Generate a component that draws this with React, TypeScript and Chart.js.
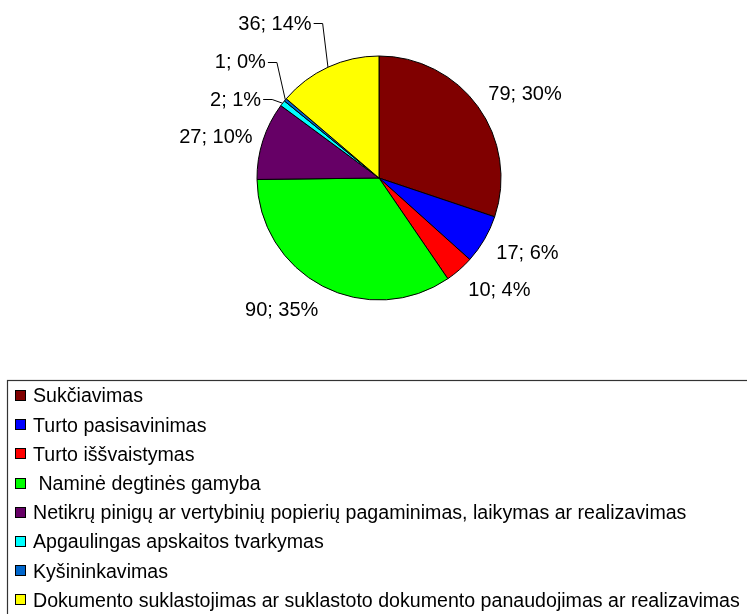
import { useEffect, useRef } from "react";
import { Chart, registerables } from "chart.js";

Chart.register(...registerables);

const categories = [
  "Sukčiavimas",
  "Turto pasisavinimas",
  "Turto iššvaistymas",
  " Naminė degtinės gamyba",
  "Netikrų pinigų ar vertybinių popierių pagaminimas, laikymas ar realizavimas",
  "Apgaulingas apskaitos tvarkymas",
  "Kyšininkavimas",
  "Dokumento suklastojimas ar suklastoto dokumento panaudojimas ar realizavimas",
];
const counts = [79, 17, 10, 90, 27, 2, 1, 36];
const percents = [30, 6, 4, 35, 10, 1, 0, 14];
const colors = [
  "#800000",
  "#0000FF",
  "#FF0000",
  "#00FF00",
  "#660066",
  "#00FFFF",
  "#0066CC",
  "#FFFF00",
];

// layout (not data): label centre offsets from each arc's outer mid point
const labelOffsets: [number, number][] = [
  [47, -13],
  [43, 13],
  [40, 20],
  [-41, 23],
  [-47, -4],
  [-47, -4],
  [-45, -38],
  [-53, -44],
];
const hasLeader = [false, false, false, false, false, true, true, true];

const FONT = '"Liberation Sans", Arial, sans-serif';

const labelPlugin = {
  id: "pieLabels",
  afterDatasetsDraw(chart: any) {
    const ctx = chart.ctx as CanvasRenderingContext2D;
    const meta = chart.getDatasetMeta(0);
    ctx.save();
    ctx.font = `20px ${FONT}`;
    ctx.fillStyle = "#000";
    ctx.textAlign = "center";
    ctx.textBaseline = "middle";
    ctx.strokeStyle = "#000";
    ctx.lineWidth = 1;
    meta.data.forEach((arc: any, i: number) => {
      const p = arc.getProps(["x", "y", "startAngle", "endAngle", "outerRadius"], true);
      const mid = (p.startAngle + p.endAngle) / 2;
      const ex = p.x + Math.cos(mid) * p.outerRadius;
      const ey = p.y + Math.sin(mid) * p.outerRadius;
      const lx = ex + labelOffsets[i][0];
      const ly = ey + labelOffsets[i][1];
      const text = `${counts[i]}; ${percents[i]}%`;
      ctx.fillText(text, lx, ly + 1);
      if (hasLeader[i]) {
        const w = ctx.measureText(text).width;
        const sx = lx + w / 2 + 2;
        const kx = sx + 9;
        ctx.beginPath();
        ctx.moveTo(sx, Math.round(ly) + 0.5);
        ctx.lineTo(kx, Math.round(ly) + 0.5);
        ctx.lineTo(ex, ey);
        ctx.stroke();
      }
    });
    ctx.restore();
  },
  afterDraw(chart: any) {
    const ctx = chart.ctx as CanvasRenderingContext2D;
    const labels: string[] = chart.data.labels;
    const bg: string[] = chart.data.datasets[0].backgroundColor;
    ctx.save();
    // legend frame
    ctx.strokeStyle = "#333";
    ctx.lineWidth = 1.2;
    ctx.strokeRect(7.5, 380.5, 800, 300);
    ctx.font = `19.6px ${FONT}`;
    ctx.textAlign = "left";
    ctx.textBaseline = "middle";
    labels.forEach((lab, i) => {
      const cy = 395.5 + 29.2 * i;
      const top = Math.round(cy - 5.5);
      ctx.fillStyle = bg[i];
      ctx.fillRect(15, top, 11, 11);
      ctx.strokeStyle = "#000";
      ctx.lineWidth = 1;
      ctx.strokeRect(15.5, top + 0.5, 10, 10);
      ctx.fillStyle = "#000";
      ctx.fillText(lab, 33, cy + 1.5);
    });
    ctx.restore();
  },
};

export default function App() {
  const ref = useRef<HTMLCanvasElement | null>(null);
  useEffect(() => {
    if (!ref.current) return;
    const chart = new Chart(ref.current, {
      type: "pie",
      data: {
        labels: categories,
        datasets: [
          {
            data: counts,
            backgroundColor: colors,
            borderColor: "#000",
            borderWidth: 1,
          },
        ],
      },
      options: {
        animation: false,
        responsive: false,
        radius: 122,
        layout: { padding: { left: 249, right: 238, top: 48, bottom: 306 } },
        plugins: {
          legend: { display: false },
          tooltip: { enabled: false },
        },
      } as any,
      plugins: [labelPlugin],
    });
    return () => chart.destroy();
  }, []);
  return (
    <div style={{ position: "fixed", left: 0, top: 0, width: 747, height: 614, background: "#fff" }}>
      <canvas ref={ref} width={747} height={614} style={{ display: "block", width: 747, height: 614 }} />
    </div>
  );
}
